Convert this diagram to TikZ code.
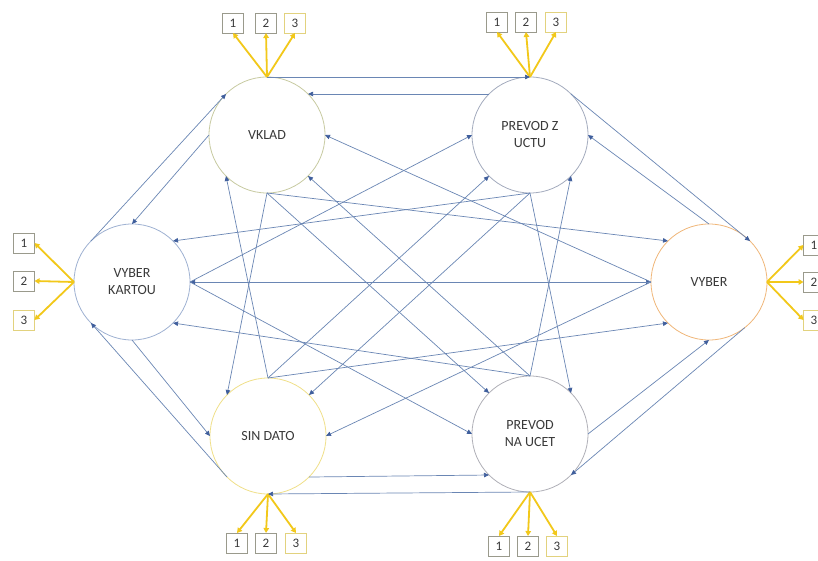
\documentclass[tikz,border=0pt]{standalone}
\usepackage{fontspec}
\setmainfont{Carlito}
\usetikzlibrary{arrows.meta}
\definecolor{txt}{HTML}{3A3A3A}
\definecolor{edgeblue}{HTML}{6A86B4}
\definecolor{headblue}{HTML}{3F5E9C}
\definecolor{gold}{HTML}{F2C81A}
\definecolor{boxgrey}{HTML}{9A9A8C}
\definecolor{boxyel}{HTML}{E2D27E}
\definecolor{cVL}{HTML}{C8CBA2}
\definecolor{cPZU}{HTML}{A4ACBE}
\definecolor{cVK}{HTML}{9FB2D2}
\definecolor{cVY}{HTML}{F0B77A}
\definecolor{cSD}{HTML}{F0E08A}
\definecolor{cPNU}{HTML}{B0B0B8}
\tikzset{
  stnode/.style={circle, minimum size=116pt, inner sep=0pt, outer sep=0pt,
    line width=0.8pt, fill=white, align=center,
    font=\fontsize{14}{17}\selectfont, text=txt},
  numbox/.style={draw=boxgrey, line width=0.7pt, minimum width=21pt,
    minimum height=20pt, inner sep=0pt, outer sep=0pt, fill=white,
    font=\fontsize{13}{13}\selectfont, text=txt},
  numboxy/.style={numbox, draw=boxyel},
  edgearrow/.style={draw=edgeblue, line width=0.7pt,
    -{Triangle[length=5pt,width=4.5pt,fill=headblue,color=headblue]}},
  ybranch/.style={draw=gold, line width=1.8pt,
    -{Triangle[length=5pt,width=5.5pt]}}
}
\begin{document}
\begin{tikzpicture}[x=1pt,y=-1pt]
\useasboundingbox (0,0) rectangle (818,561);
\clip (0,0) rectangle (818,561);
\fill[white] (0,0) rectangle (818,561);

% states
\node[stnode, draw=cVL]  (VL)  at (267,135) {VKLAD};
\node[stnode, draw=cPZU] (PZU) at (530,135) {PREVOD Z\\UCTU};
\node[stnode, draw=cVK]  (VK)  at (132,282) {VYBER\\KARTOU};
\node[stnode, draw=cVY]  (VY)  at (709,282) {VYBER};
\node[stnode, draw=cSD]  (SD)  at (268,436) {SIN DATO};
\node[stnode, draw=cPNU] (PNU) at (530,434) {PREVOD\\NA UCET};

% number boxes
\node[numbox]  (VLb1) at (233,23) {1};
\node[numbox]  (VLb2) at (266,23) {2};
\node[numboxy] (VLb3) at (295,23) {3};
\node[numbox]  (PZUb1) at (497,22) {1};
\node[numbox]  (PZUb2) at (526,22) {2};
\node[numboxy] (PZUb3) at (556,22) {3};
\node[numbox]  (VKb1) at (24,243) {1};
\node[numbox]  (VKb2) at (24,281) {2};
\node[numboxy] (VKb3) at (24,320) {3};
\node[numbox]  (VYb1) at (814,245) {1};
\node[numbox]  (VYb2) at (814,282) {2};
\node[numboxy] (VYb3) at (814,320) {3};
\node[numbox]  (SDb1) at (237,543) {1};
\node[numbox]  (SDb2) at (266,543) {2};
\node[numboxy] (SDb3) at (296,543) {3};
\node[numbox]  (PNUb1) at (499,546) {1};
\node[numbox]  (PNUb2) at (528,546) {2};
\node[numboxy] (PNUb3) at (557,546) {3};

% yellow branches
\foreach \i in {1,2,3}{
  \draw[ybranch] (VL.90)   -- (VLb\i.south);
  \draw[ybranch] (PZU.90)  -- (PZUb\i.south);
  \draw[ybranch] (VK.180)  -- (VKb\i.east);
  \draw[ybranch] (VY.0)    -- (VYb\i.west);
  \draw[ybranch] (SD.270)  -- (SDb\i.north);
  \draw[ybranch] (PNU.270) -- (PNUb\i.north);
}

% transitions
\foreach \a/\b in {
  VL.90/PZU.90, PZU.135/VL.45, SD.315/PNU.225, PNU.270/SD.270,
  VK.135/VL.135, VL.180/VK.90, VK.270/SD.180, SD.225/VK.225,
  PZU.45/VY.45, VY.90/PZU.0, PNU.0/VY.270, VY.308/PNU.315,
  VK.0/VY.180, VY.180/VK.0,
  VL.270/SD.135, SD.90/VL.225, PZU.270/PNU.45, PNU.90/PZU.315,
  VK.0/PZU.180, PZU.270/VK.45, VK.0/PNU.180, PNU.90/VK.315,
  VY.180/VL.0, VL.270/VY.135, VY.180/SD.0, SD.90/VY.225,
  VL.270/PNU.135, PNU.90/VL.315, PZU.270/SD.45, SD.90/PZU.225}
  \draw[edgearrow] (\a) -- (\b);
\end{tikzpicture}
\end{document}
